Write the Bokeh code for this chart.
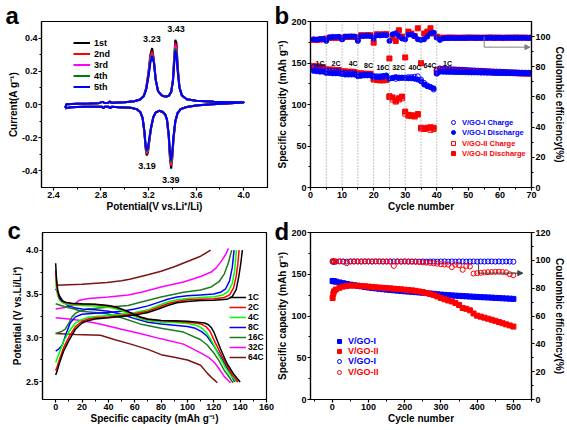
from bokeh.plotting import figure
from bokeh.layouts import column, row
from bokeh.models import (Range1d, LinearAxis, Legend, LegendItem, Span, Title,
                          Arrow, NormalHead, FixedTicker, PrintfTickFormatter)
from bokeh.embed import file_html
from bokeh.resources import INLINE
from bokeh.core.properties import value

FONT = "Liberation Sans"

# ---------------- (a) cyclic voltammetry ----------------
cv_cycles = ["1st", "2nd", "3rd", "4th", "5th"]
cv_E_anodic = [2.50, 2.51, 2.60, 2.70, 2.78, 2.815, 2.825, 2.835, 2.86, 2.875, 2.885, 2.90,
               3.00, 3.08, 3.13, 3.16, 3.18, 3.20, 3.215, 3.23, 3.245, 3.26, 3.28, 3.31,
               3.33, 3.35, 3.37, 3.39, 3.405, 3.415, 3.425, 3.435, 3.445, 3.46, 3.48, 3.52,
               3.60, 3.75, 3.90, 4.00]
cv_I_an_1st = [-0.020, 0.002, 0.004, 0.006, 0.008, 0.016, 0.010, 0.009, 0.010, 0.018, 0.011, 0.010,
               0.014, 0.020, 0.030, 0.052, 0.100, 0.200, 0.300, 0.340, 0.270, 0.150, 0.080, 0.055,
               0.050, 0.048, 0.052, 0.075, 0.150, 0.280, 0.390, 0.370, 0.230, 0.105, 0.055, 0.032,
               0.022, 0.016, 0.014, 0.013]
cv_I_an_2nd = [-0.020, 0.002, 0.004, 0.006, 0.008, 0.016, 0.010, 0.009, 0.010, 0.018, 0.011, 0.010,
               0.014, 0.020, 0.030, 0.051, 0.095, 0.190, 0.285, 0.320, 0.262, 0.150, 0.080, 0.055,
               0.050, 0.048, 0.052, 0.075, 0.145, 0.265, 0.370, 0.350, 0.220, 0.103, 0.055, 0.032,
               0.022, 0.016, 0.014, 0.013]
cv_I_an_3rd = [-0.020, 0.002, 0.004, 0.006, 0.008, 0.016, 0.010, 0.009, 0.010, 0.018, 0.011, 0.010,
               0.014, 0.020, 0.030, 0.051, 0.093, 0.182, 0.272, 0.308, 0.258, 0.150, 0.080, 0.055,
               0.050, 0.048, 0.052, 0.075, 0.143, 0.255, 0.355, 0.330, 0.212, 0.102, 0.055, 0.032,
               0.022, 0.016, 0.014, 0.013]
cv_I_an_4th = [-0.020, 0.002, 0.004, 0.006, 0.008, 0.016, 0.010, 0.009, 0.010, 0.018, 0.011, 0.010,
               0.014, 0.020, 0.030, 0.050, 0.091, 0.176, 0.262, 0.299, 0.254, 0.150, 0.080, 0.055,
               0.050, 0.048, 0.052, 0.075, 0.141, 0.248, 0.340, 0.315, 0.206, 0.101, 0.055, 0.032,
               0.022, 0.016, 0.014, 0.013]
cv_I_an_5th = [-0.020, 0.002, 0.004, 0.006, 0.008, 0.016, 0.010, 0.009, 0.010, 0.018, 0.011, 0.010,
               0.014, 0.020, 0.030, 0.050, 0.090, 0.170, 0.250, 0.290, 0.250, 0.150, 0.080, 0.055,
               0.050, 0.048, 0.052, 0.075, 0.140, 0.240, 0.325, 0.300, 0.200, 0.100, 0.055, 0.032,
               0.022, 0.016, 0.014, 0.013]
cv_E_cathodic = [4.00, 3.85, 3.70, 3.60, 3.52, 3.47, 3.445, 3.425, 3.41, 3.40, 3.39, 3.38, 3.37,
                 3.355, 3.34, 3.32, 3.29, 3.26, 3.24, 3.22, 3.205, 3.195, 3.185, 3.175, 3.165,
                 3.15, 3.13, 3.10, 3.05, 2.95, 2.89, 2.875, 2.865, 2.85, 2.83, 2.82, 2.81, 2.75,
                 2.65, 2.55, 2.50]
cv_I_ca_1st = [0.012, 0.006, 0.000, -0.006, -0.015, -0.028, -0.050, -0.105, -0.210, -0.320, -0.386,
               -0.330, -0.200, -0.095, -0.060, -0.045, -0.038, -0.048, -0.078, -0.150, -0.230, -0.290,
               -0.307, -0.265, -0.170, -0.082, -0.045, -0.028, -0.020, -0.016, -0.014, -0.022, -0.014,
               -0.013, -0.014, -0.024, -0.014, -0.013, -0.014, -0.016, -0.022]
cv_I_ca_2nd = [0.012, 0.006, 0.000, -0.006, -0.015, -0.028, -0.050, -0.103, -0.205, -0.310, -0.370,
               -0.315, -0.195, -0.093, -0.060, -0.045, -0.038, -0.048, -0.077, -0.147, -0.225, -0.282,
               -0.297, -0.257, -0.167, -0.081, -0.045, -0.028, -0.020, -0.016, -0.014, -0.022, -0.014,
               -0.013, -0.014, -0.024, -0.014, -0.013, -0.014, -0.016, -0.022]
cv_I_ca_3rd = [0.012, 0.006, 0.000, -0.006, -0.015, -0.028, -0.050, -0.102, -0.200, -0.300, -0.360,
               -0.305, -0.190, -0.092, -0.060, -0.045, -0.038, -0.048, -0.076, -0.144, -0.220, -0.275,
               -0.290, -0.250, -0.164, -0.081, -0.045, -0.028, -0.020, -0.016, -0.014, -0.022, -0.014,
               -0.013, -0.014, -0.024, -0.014, -0.013, -0.014, -0.016, -0.022]
cv_I_ca_4th = [0.012, 0.006, 0.000, -0.006, -0.015, -0.028, -0.050, -0.101, -0.195, -0.290, -0.350,
               -0.298, -0.185, -0.091, -0.060, -0.045, -0.038, -0.048, -0.075, -0.142, -0.215, -0.268,
               -0.285, -0.245, -0.162, -0.080, -0.045, -0.028, -0.020, -0.016, -0.014, -0.022, -0.014,
               -0.013, -0.014, -0.024, -0.014, -0.013, -0.014, -0.016, -0.022]
cv_I_ca_5th = [0.012, 0.006, 0.000, -0.006, -0.015, -0.028, -0.050, -0.100, -0.190, -0.280, -0.337,
               -0.290, -0.180, -0.090, -0.060, -0.045, -0.038, -0.048, -0.075, -0.140, -0.210, -0.260,
               -0.277, -0.240, -0.160, -0.080, -0.045, -0.028, -0.020, -0.016, -0.014, -0.022, -0.014,
               -0.013, -0.014, -0.024, -0.014, -0.013, -0.014, -0.016, -0.022]
peak_ox_E = [3.228, 3.43]
peak_ox_I = [0.34, 0.40]
peak_ox_txt = ["3.23", "3.43"]
peak_red_E = [3.186, 3.387]
peak_red_I = [-0.307, -0.386]
peak_red_txt = ["3.19", "3.39"]
a_xticks = [2.4, 2.8, 3.2, 3.6, 4.0]
a_xminor = [2.6, 3.0, 3.4, 3.8]
a_yticks = [-0.4, -0.2, 0.0, 0.2, 0.4]
a_yminor = [-0.3, -0.1, 0.1, 0.3]

# ---------------- (b) rate capability ----------------
cycles_b = list(range(1, 71))
b_I_charge = [145.5, 145.0, 144.5, 144.5,
              141.0, 141.0, 140.5, 140.5, 140.0,
              138.5, 138.0, 138.0, 138.0, 137.5,
              135.5, 135.5, 136.0, 136.0, 136.0,
              134.5, 134.0, 134.0, 134.5, 135.0,
              131.5, 132.0, 131.0, 131.5, 132.5,
              132.5, 133.0, 133.0, 133.5, 134.0,
              130.0, 126.0, 123.0, 121.0, 118.0,
              141.0,
              143.5, 143.2, 143.0, 142.8, 142.5, 142.3, 142.1, 141.9, 141.7, 141.5,
              141.3, 141.1, 140.9, 140.7, 140.5, 140.3, 140.1, 139.9, 139.7, 139.6,
              139.4, 139.2, 139.1, 138.9, 138.8, 138.6, 138.5, 138.4, 138.2, 138.1]
b_I_discharge = [140.5, 140.0, 139.5, 139.5,
                 138.0, 138.0, 137.5, 137.5, 137.5,
                 136.5, 136.0, 136.0, 136.0, 136.0,
                 134.0, 134.5, 135.0, 135.0, 135.0,
                 133.0, 133.0, 133.0, 133.5, 134.5,
                 131.0, 132.0, 133.0, 132.5, 132.0,
                 132.0, 131.5, 131.5, 131.0, 130.0,
                 128.0, 124.0, 122.0, 121.0, 119.5,
                 137.0,
                 139.5, 139.4, 139.3, 139.2, 139.1, 139.0, 139.0, 138.9, 138.8, 138.7,
                 138.6, 138.6, 138.5, 138.4, 138.3, 138.2, 138.2, 138.1, 138.0, 137.9,
                 137.9, 137.8, 137.7, 137.7, 137.6, 137.5, 137.5, 137.4, 137.3, 137.3]
b_II_charge = [146.5, 146.0, 145.5, 145.0,
               142.5, 142.0, 142.0, 141.5, 141.5,
               140.0, 140.0, 139.5, 139.5, 139.0,
               137.5, 137.5, 137.0, 137.0, 137.0,
               131.0, 130.0, 129.5, 129.5, 130.0,
               109.0, 106.0, 103.5, 106.0, 107.5,
               89.0, 86.5, 86.0, 85.5, 88.5,
               71.0, 70.5, 71.5, 69.5, 70.5,
               141.5,
               142.5, 142.3, 142.0, 141.8, 141.6, 141.4, 141.1, 140.9, 140.7, 140.5,
               140.3, 140.1, 139.9, 139.7, 139.6, 139.4, 139.2, 139.1, 138.9, 138.8,
               138.6, 138.5, 138.3, 138.2, 138.1, 137.9, 137.8, 137.7, 137.6, 137.5]
b_II_discharge = [145.0, 144.5, 144.0, 143.5,
                  141.5, 141.5, 141.0, 141.0, 140.5,
                  139.5, 139.0, 139.0, 139.0, 138.5,
                  137.0, 137.0, 137.0, 136.5, 136.5,
                  130.0, 129.5, 129.0, 129.0, 129.5,
                  110.0, 108.5, 104.5, 107.5, 109.5,
                  91.5, 87.5, 87.0, 86.5, 88.0,
                  72.0, 70.5, 72.0, 72.5, 72.0,
                  138.5,
                  142.0, 141.8, 141.6, 141.3, 141.1, 140.9, 140.7, 140.5, 140.3, 140.1,
                  139.9, 139.7, 139.5, 139.4, 139.2, 139.0, 138.9, 138.7, 138.6, 138.4,
                  138.3, 138.1, 138.0, 137.9, 137.8, 137.6, 137.5, 137.4, 137.3, 137.2]
b_I_eff = [98.2, 98.0, 98.4, 98.5,
           97.1, 99.6, 99.8, 99.8, 99.9,
           98.2, 100.0, 100.0, 100.1, 100.0,
           97.1, 100.4, 100.4, 100.5, 100.3,
           98.7, 100.9, 100.8, 101.0, 100.9,
           97.1, 101.5, 102.2, 100.4, 98.7,
           98.2, 101.3, 101.3, 100.4, 98.2,
           97.8, 98.2, 100.0, 102.2, 102.6,
           99.3,
           97.8, 98.8, 99.0, 99.0, 99.1, 99.0, 99.1, 99.1, 99.0, 99.1,
           99.2, 99.1, 99.1, 99.2, 99.1, 99.2, 99.2, 99.1, 99.2, 99.2,
           99.1, 99.2, 99.2, 99.2, 99.1, 99.2, 99.2, 99.2, 99.1, 99.2]
b_II_eff = [97.8, 97.8, 98.0, 98.2,
            98.7, 99.1, 99.2, 99.2, 99.3,
            98.7, 99.8, 99.8, 99.9, 99.8,
            98.7, 100.9, 100.8, 101.0, 100.9,
            96.0, 101.5, 101.4, 101.5, 101.6,
            85.5, 99.3, 97.1, 104.2, 100.0,
            86.2, 103.3, 102.0, 100.4, 105.5,
            82.4, 102.0, 103.3, 105.5, 102.0,
            100.0,
            99.3, 99.2, 99.3, 99.4, 99.3, 99.3, 99.2, 99.3, 99.3, 99.4,
            99.3, 99.3, 99.3, 99.2, 99.3, 99.3, 99.4, 99.3, 99.3, 99.3,
            99.2, 99.3, 99.3, 99.3, 99.4, 99.3, 99.3, 99.3, 99.2, 99.3]
rate_bounds = [5, 10, 15, 20, 25, 30, 35, 40]
rate_names = ["1C", "2C", "4C", "8C", "16C", "32C", "40C", "64C", "1C"]
rate_label_cycle = [3, 8.1, 13.5, 18.4, 22.9, 27.9, 33.1, 37.8, 43.4]
rate_label_cap = [150, 149, 149, 147, 145, 145, 145, 147, 150]
b_arrow_x = [55, 55, 68]
b_arrow_y = [100, 93, 93]
b_arrow_tip = 69.5
b_xticks = [0, 10, 20, 30, 40, 50, 60, 70]
b_xminor = [5, 15, 25, 35, 45, 55, 65]
b_yticks = [0, 50, 100, 150, 200]
b_yminor = [25, 75, 125, 175]
b_effticks = [0, 20, 40, 60, 80, 100]
b_effminor = [10, 30, 50, 70, 90]

# ---------------- (c) charge/discharge profiles ----------------
c_rates = ["1C", "2C", "4C", "8C", "16C", "32C", "64C"]
c_ch_cap_1C = [0, 1, 3, 6, 10, 15, 20, 25, 30, 40, 50, 60, 70, 78, 85, 92, 100, 110, 120, 130, 134, 137, 139, 140.5, 141.7]
c_ch_V_1C = [2.58, 2.62, 2.72, 2.85, 2.97, 3.10, 3.17, 3.20, 3.215, 3.23, 3.245, 3.26, 3.29, 3.33, 3.37, 3.40, 3.415, 3.425, 3.43, 3.44, 3.47, 3.55, 3.70, 3.85, 4.00]
c_dis_cap_1C = [0, 0.5, 1.5, 3, 5, 8, 12, 20, 30, 40, 45, 50, 55, 60, 65, 70, 80, 90, 100, 108, 113, 116, 118, 120, 125, 130, 135, 140]
c_dis_V_1C = [3.85, 3.70, 3.55, 3.46, 3.42, 3.405, 3.395, 3.39, 3.385, 3.37, 3.355, 3.33, 3.30, 3.265, 3.235, 3.215, 3.20, 3.195, 3.19, 3.18, 3.17, 3.15, 3.12, 3.07, 2.88, 2.71, 2.59, 2.50]
c_ch_cap_2C = [0, 1, 3, 6, 10, 15, 20, 25, 30, 40, 50, 60, 70, 78, 85, 92, 100, 110, 120, 128, 132, 135, 137, 138.3, 139.2]
c_ch_V_2C = [2.63, 2.67, 2.76, 2.89, 3.01, 3.13, 3.19, 3.215, 3.23, 3.24, 3.255, 3.275, 3.305, 3.35, 3.39, 3.415, 3.435, 3.44, 3.445, 3.46, 3.49, 3.57, 3.70, 3.85, 4.00]
c_dis_cap_2C = [0, 0.5, 1.5, 3, 5, 8, 12, 20, 30, 40, 45, 50, 55, 60, 65, 70, 80, 90, 100, 106, 111, 114, 117, 121, 126, 131, 134, 138.4]
c_dis_V_2C = [3.77, 3.65, 3.52, 3.45, 3.415, 3.40, 3.39, 3.385, 3.38, 3.365, 3.35, 3.325, 3.295, 3.26, 3.23, 3.21, 3.195, 3.19, 3.18, 3.17, 3.155, 3.13, 3.08, 2.95, 2.80, 2.66, 2.58, 2.50]
c_ch_cap_4C = [0, 1, 3, 6, 10, 15, 20, 25, 30, 40, 50, 60, 70, 78, 85, 92, 100, 110, 120, 127, 131, 134, 135.7, 136.5, 137.2]
c_ch_V_4C = [2.72, 2.76, 2.84, 2.96, 3.07, 3.17, 3.21, 3.235, 3.245, 3.255, 3.27, 3.29, 3.32, 3.37, 3.41, 3.435, 3.45, 3.46, 3.47, 3.49, 3.53, 3.62, 3.75, 3.88, 4.00]
c_dis_cap_4C = [0, 0.5, 1.5, 3, 5, 8, 12, 20, 30, 40, 45, 50, 55, 60, 65, 70, 80, 90, 100, 105, 109, 112, 115, 119, 124, 129, 133, 137.4]
c_dis_V_4C = [3.68, 3.58, 3.48, 3.43, 3.40, 3.385, 3.375, 3.37, 3.365, 3.35, 3.335, 3.31, 3.28, 3.245, 3.215, 3.195, 3.18, 3.175, 3.165, 3.15, 3.13, 3.10, 3.05, 2.95, 2.80, 2.66, 2.57, 2.50]
c_ch_cap_8C = [0, 2, 5, 8, 11, 15, 20, 30, 40, 50, 60, 70, 78, 85, 92, 100, 110, 120, 125, 129, 132, 134, 135.4]
c_ch_V_8C = [2.85, 2.87, 2.92, 3.05, 3.17, 3.24, 3.27, 3.28, 3.29, 3.305, 3.33, 3.365, 3.405, 3.44, 3.465, 3.48, 3.49, 3.50, 3.52, 3.56, 3.65, 3.80, 4.00]
c_dis_cap_8C = [0, 2, 5, 9, 14, 20, 30, 40, 50, 60, 70, 80, 90, 100, 106, 111, 115, 120, 125, 130, 135.9]
c_dis_V_8C = [3.56, 3.50, 3.43, 3.37, 3.345, 3.33, 3.32, 3.305, 3.27, 3.22, 3.18, 3.16, 3.145, 3.13, 3.11, 3.07, 3.02, 2.91, 2.79, 2.66, 2.50]
c_ch_cap_16C = [0, 4, 7.3, 10, 12.4, 15, 18.7, 25, 39, 55, 65, 80, 97, 110, 118, 124, 128, 131, 133.6]
c_ch_V_16C = [3.05, 3.07, 3.10, 3.17, 3.24, 3.28, 3.31, 3.33, 3.35, 3.37, 3.41, 3.465, 3.52, 3.545, 3.58, 3.64, 3.73, 3.85, 4.00]
c_dis_cap_16C = [0, 4, 8.6, 14, 19, 30, 39, 50, 64, 80, 97, 110, 115, 120, 124, 128, 131, 134.6]
c_dis_V_16C = [3.39, 3.37, 3.35, 3.33, 3.305, 3.29, 3.275, 3.23, 3.16, 3.11, 3.067, 2.98, 2.92, 2.83, 2.74, 2.63, 2.57, 2.49]
c_ch_cap_32C = [0, 8, 14, 18, 25, 40, 55, 65, 80, 97, 110, 118, 122, 126, 129, 131.1]
c_ch_V_32C = [3.33, 3.35, 3.38, 3.43, 3.45, 3.465, 3.49, 3.52, 3.58, 3.636, 3.70, 3.75, 3.80, 3.88, 3.95, 4.02]
c_dis_cap_32C = [0, 10, 19, 30, 39, 50, 64, 80, 97, 110, 116, 120, 124, 128, 132.8]
c_dis_V_32C = [3.23, 3.215, 3.20, 3.17, 3.14, 3.10, 3.05, 2.99, 2.93, 2.83, 2.78, 2.73, 2.65, 2.56, 2.49]
c_ch_cap_64C = [0, 20, 39, 50, 57, 70, 80, 90, 100, 110, 117.6]
c_ch_V_64C = [3.60, 3.61, 3.63, 3.65, 3.67, 3.72, 3.76, 3.81, 3.87, 3.93, 4.00]
c_dis_cap_64C = [0, 15, 34, 45, 57, 70, 80, 90, 100, 110, 115, 119, 122.7]
c_dis_V_64C = [3.05, 3.04, 3.03, 2.98, 2.93, 2.87, 2.81, 2.78, 2.75, 2.69, 2.60, 2.54, 2.49]
c_xticks = [0, 20, 40, 60, 80, 100, 120, 140, 160]
c_xminor = [10, 30, 50, 70, 90, 110, 130, 150]
c_yticks = [2.5, 3.0, 3.5, 4.0]
c_yminor = [2.75, 3.25, 3.75]

# ---------------- (d) long cycling ----------------
cycles_d = [1, 3, 5, 10, 20, 30, 40, 50, 60, 70, 80, 90, 100, 110, 120, 130, 140, 150, 160, 170,
            180, 190, 200, 210, 220, 230, 240, 250, 260, 270, 280, 290, 300, 310, 320, 330, 340,
            350, 360, 370, 380, 390, 400, 410, 420, 430, 440, 450, 460, 470, 480, 490, 500]
d_I_cap = [142.0, 141.8, 141.6, 141.1, 140.2, 139.3, 138.4, 137.6, 136.9, 136.2, 135.5, 134.8, 134.1,
           133.6, 133.1, 132.6, 132.1, 131.6, 131.2, 130.8, 130.4, 130.0, 129.6, 129.3, 128.9, 128.6,
           128.2, 127.9, 127.4, 127.0, 126.5, 126.0, 125.6, 125.3, 125.0, 124.7, 124.4, 124.1, 123.8,
           123.6, 123.3, 123.1, 122.8, 122.6, 122.4, 122.2, 122.0, 121.7, 121.5, 121.2, 121.0, 120.8,
           120.5]
d_II_cap = [121.5, 126.5, 129.5, 131.8, 133.8, 135.2, 136.0, 136.4, 136.4, 136.2, 135.9, 135.6, 135.2,
            134.8, 134.4, 134.0, 133.7, 133.4, 133.1, 132.7, 132.3, 131.9, 131.5, 131.1, 130.7, 130.1,
            129.4, 128.6, 127.6, 126.4, 125.0, 123.4, 121.6, 120.0, 118.6, 117.4, 115.6, 113.2, 109.6,
            108.6, 106.8, 103.0, 100.4, 99.2, 98.0, 96.8, 95.5, 94.2, 92.8, 91.4, 90.0, 88.7, 87.3]
d_I_eff = [99.0, 99.1, 99.0, 99.1, 99.2, 99.1, 99.1, 99.2, 99.1, 99.2, 99.1, 99.2, 99.2, 99.1, 99.2,
           99.2, 99.1, 99.2, 99.1, 99.2, 99.2, 99.1, 99.2, 99.1, 99.2, 99.2, 99.1, 99.2, 99.1, 99.2,
           99.2, 99.1, 99.2, 99.2, 99.1, 99.2, 99.1, 99.2, 99.2, 99.1, 99.2, 99.2, 99.1, 99.2, 99.1,
           99.2, 99.2, 99.1, 99.2, 99.1, 99.2, 99.1, 99.0]
d_II_eff = [99.5, 99.3, 99.2, 99.2, 99.3, 99.2, 97.9, 99.2, 99.3, 99.2, 99.2, 99.3, 99.2, 99.2, 99.3,
            99.2, 99.2, 99.1, 99.2, 96.0, 99.2, 99.1, 99.2, 99.1, 99.0, 98.9, 98.8, 98.5, 98.3, 98.1,
            97.9, 97.6, 97.2, 97.0, 96.9, 95.1, 96.9, 96.5, 93.2, 96.0, 95.6, 90.5, 90.8, 91.0, 91.3,
            91.5, 91.6, 91.7, 91.8, 91.6, 91.4, 90.0, 89.3]
d_arrow_x = [404, 404, 522]
d_arrow_y = [99.0, 90.8, 90.8]
d_arrow_tip = 526
d_xticks = [0, 100, 200, 300, 400, 500]
d_xminor = [-50, 50, 150, 250, 350, 450, 550]
d_yticks = [0, 50, 100, 150, 200]
d_yminor = [25, 75, 125, 175]
d_effticks = [0, 20, 40, 60, 80, 100, 120]
d_effminor = [10, 30, 50, 70, 90, 110]


# ---------------- helpers ----------------
def base_fig(width, height, xr, yr, left, right, top, bottom):
    p = figure(width=width, height=height, x_range=xr, y_range=yr,
               output_backend="svg", toolbar_location=None,
               min_border_left=left, min_border_right=right,
               min_border_top=top, min_border_bottom=bottom)
    p.xgrid.visible = False
    p.ygrid.visible = False
    p.outline_line_color = "black"
    p.outline_line_width = 1.2
    p.outline_line_alpha = 1.0
    p.background_fill_color = "white"
    p.border_fill_color = "white"
    return p


def style_axis(ax, ticks, minor, label, fmt=None):
    ax.ticker = FixedTicker(ticks=ticks, minor_ticks=minor)
    if fmt:
        ax.formatter = PrintfTickFormatter(format=fmt)
    ax.axis_label = label
    ax.axis_line_color = "black"
    ax.axis_line_width = 1.2
    ax.major_tick_line_color = "black"
    ax.major_tick_line_width = 1.2
    ax.minor_tick_line_color = "black"
    ax.major_tick_in = 0
    ax.major_tick_out = 3
    ax.minor_tick_in = 0
    ax.minor_tick_out = 2
    ax.major_label_text_font = FONT
    ax.major_label_text_font_size = "9px"
    ax.major_label_text_font_style = "bold"
    ax.major_label_text_color = "black"
    ax.major_label_standoff = 1
    ax.axis_label_text_font = FONT
    ax.axis_label_text_font_size = "10px"
    ax.axis_label_text_font_style = "bold"
    ax.axis_label_text_color = "black"
    ax.axis_label_standoff = 0


def make_legend(items, loc, color="black", gw=16, rh=10, size="8px", standoff=4):
    return Legend(items=items, location=loc, orientation="vertical",
                  label_text_font=FONT, label_text_font_size=size,
                  label_text_font_style="bold", label_text_color=color,
                  glyph_width=gw, glyph_height=rh, label_height=rh,
                  label_standoff=standoff, spacing=0, padding=0, margin=0,
                  border_line_color=None, background_fill_alpha=0)


def panel_letter(p, txt, offset, standoff):
    # negative standoff keeps the letter inside the existing top margin
    t = Title(text=txt, align="left", vertical_align="top", offset=offset,
              text_font=FONT, text_font_size="24px", text_font_style="bold",
              text_color="black")
    try:
        t.standoff = standoff
    except Exception:
        t.standoff = 0
    p.title = t


# ---------------- panel a ----------------
pa = base_fig(274, 215, Range1d(2.3, 4.2), Range1d(-0.5, 0.5), 41, 7, 21, 28)
style_axis(pa.xaxis[0], a_xticks, a_xminor, "Potential(V vs.Li\u207a/Li)", "%.1f")
style_axis(pa.yaxis[0], a_yticks, a_yminor, "Current(A g\u207b\u00b9)", "%.1f")
cv_colors = ["black", "red", "magenta", "#008000", "blue"]
cv_an = [cv_I_an_1st, cv_I_an_2nd, cv_I_an_3rd, cv_I_an_4th, cv_I_an_5th]
cv_ca = [cv_I_ca_1st, cv_I_ca_2nd, cv_I_ca_3rd, cv_I_ca_4th, cv_I_ca_5th]
a_items = []
for name, ian, ica, col in zip(cv_cycles, cv_an, cv_ca, cv_colors):
    r = pa.line(cv_E_anodic + cv_E_cathodic, ian + ica, line_color=col, line_width=2)
    a_items.append(LegendItem(label=name, renderers=[r]))
pa.add_layout(make_legend(a_items, (32, 95), gw=17, rh=11, size="9px", standoff=4))
pa.text(x=peak_ox_E, y=peak_ox_I, text=peak_ox_txt, y_offset=-9,
        text_font=value(FONT), text_font_size=value("9px"), text_font_style="bold",
        text_align="center", text_baseline="middle", text_color="black")
pa.text(x=peak_red_E, y=peak_red_I, text=peak_red_txt, y_offset=11,
        text_font=value(FONT), text_font_size=value("9px"), text_font_style="bold",
        text_align="center", text_baseline="middle", text_color="black")
panel_letter(pa, "a", -36, -18)

# ---------------- panel b ----------------
pb = base_fig(293, 215, Range1d(0, 70), Range1d(0, 200), 36, 33, 21, 28)
pb.extra_y_ranges = {"eff": Range1d(0, 110)}
pb.add_layout(LinearAxis(y_range_name="eff"), "right")
style_axis(pb.xaxis[0], b_xticks, b_xminor, "Cycle number")
style_axis(pb.yaxis[0], b_yticks, b_yminor, "Specific capacity (mAh g\u207b\u00b9)")
style_axis(pb.yaxis[1], b_effticks, b_effminor, "Coulombic efficiency(%)")
for xb in rate_bounds:
    pb.add_layout(Span(location=xb, dimension="height", line_color="#8c8c8c",
                       line_dash="1 2", line_width=1))
rIIc = pb.scatter(cycles_b, b_II_charge, marker="square", size=5, fill_color=None,
                  line_color="red", line_width=1)
rIId = pb.scatter(cycles_b, b_II_discharge, marker="square", size=5, fill_color="red",
                  line_color="red")
pb.scatter(cycles_b, b_II_eff, marker="square", size=5, fill_color="red", line_color="red",
           y_range_name="eff")
rIc = pb.scatter(cycles_b, b_I_charge, marker="circle", size=5, fill_color=None,
                 line_color="blue", line_width=1)
rId = pb.scatter(cycles_b, b_I_discharge, marker="circle", size=5, fill_color="blue",
                 line_color="blue")
pb.scatter(cycles_b, b_I_eff, marker="circle", size=5, fill_color="blue", line_color="blue",
           y_range_name="eff")
pb.text(x=rate_label_cycle, y=rate_label_cap, text=rate_names,
        text_font=value(FONT), text_font_size=value("7px"), text_font_style="bold",
        text_align="center", text_baseline="middle", text_color="black")
pb.line(b_arrow_x, b_arrow_y, line_color="#808080", line_width=1, y_range_name="eff")
pb.add_layout(Arrow(end=NormalHead(size=5, fill_color="#808080", line_color="#808080"),
                    x_start=b_arrow_x[-1], y_start=b_arrow_y[-1], x_end=b_arrow_tip,
                    y_end=b_arrow_y[-1], y_range_name="eff", line_color="#808080",
                    line_width=1))
pb.add_layout(make_legend([LegendItem(label="V/GO-I Charge", renderers=[rIc]),
                           LegendItem(label="V/GO-I Discharge", renderers=[rId])],
                          (138, 50), color="blue", gw=10, size="7.5px"))
pb.add_layout(make_legend([LegendItem(label="V/GO-II Charge", renderers=[rIIc]),
                           LegendItem(label="V/GO-II Discharge", renderers=[rIId])],
                          (138, 29), color="red", gw=10, size="7.5px"))
panel_letter(pb, "b", -36, -18)

# ---------------- panel c ----------------
pc = base_fig(274, 215, Range1d(-10, 160), Range1d(2.3, 4.2), 42, 8, 17, 31)
style_axis(pc.xaxis[0], c_xticks, c_xminor, "Specific capacity (mAh g\u207b\u00b9)")
style_axis(pc.yaxis[0], c_yticks, c_yminor, "Potential (V vs.Li/Li\u207a)", "%.1f")
c_colors = ["black", "red", "#00ff00", "blue", "#1e7b1e", "#ff00ff", "#7b1414"]
c_ch_cap = [c_ch_cap_1C, c_ch_cap_2C, c_ch_cap_4C, c_ch_cap_8C, c_ch_cap_16C, c_ch_cap_32C, c_ch_cap_64C]
c_ch_V = [c_ch_V_1C, c_ch_V_2C, c_ch_V_4C, c_ch_V_8C, c_ch_V_16C, c_ch_V_32C, c_ch_V_64C]
c_dis_cap = [c_dis_cap_1C, c_dis_cap_2C, c_dis_cap_4C, c_dis_cap_8C, c_dis_cap_16C, c_dis_cap_32C, c_dis_cap_64C]
c_dis_V = [c_dis_V_1C, c_dis_V_2C, c_dis_V_4C, c_dis_V_8C, c_dis_V_16C, c_dis_V_32C, c_dis_V_64C]
c_items = []
for i in range(len(c_rates) - 1, -1, -1):
    r1 = pc.line(c_ch_cap[i], c_ch_V[i], line_color=c_colors[i], line_width=1.5)
    pc.line(c_dis_cap[i], c_dis_V[i], line_color=c_colors[i], line_width=1.5)
    c_items.insert(0, LegendItem(label=c_rates[i], renderers=[r1]))
pc.add_layout(make_legend(c_items, (187, 37), gw=17, rh=10, size="8.5px", standoff=2))
panel_letter(pc, "c", -35, -26)

# ---------------- panel d ----------------
pd_ = base_fig(293, 215, Range1d(-60, 550), Range1d(0, 200), 36, 33, 16, 31)
pd_.extra_y_ranges = {"eff": Range1d(0, 120)}
pd_.add_layout(LinearAxis(y_range_name="eff"), "right")
style_axis(pd_.xaxis[0], d_xticks, d_xminor, "Cycle number")
style_axis(pd_.yaxis[0], d_yticks, d_yminor, "Specific capacity (mAh g\u207b\u00b9)")
style_axis(pd_.yaxis[1], d_effticks, d_effminor, "Coulombic efficiency(%)")
rd1 = pd_.scatter(cycles_d, d_I_cap, marker="square", size=5, fill_color="blue", line_color="blue")
rd2 = pd_.scatter(cycles_d, d_II_cap, marker="square", size=5, fill_color="red", line_color="red")
rd3 = pd_.scatter(cycles_d, d_I_eff, marker="circle", size=5, fill_color=None, line_color="blue",
                  line_width=1, y_range_name="eff")
rd4 = pd_.scatter(cycles_d, d_II_eff, marker="circle", size=5, fill_color=None, line_color="red",
                  line_width=1, y_range_name="eff")
pd_.line(d_arrow_x, d_arrow_y, line_color="#404040", line_width=1, y_range_name="eff")
pd_.add_layout(Arrow(end=NormalHead(size=5, fill_color="#404040", line_color="#404040"),
                     x_start=d_arrow_x[-1], y_start=d_arrow_y[-1], x_end=d_arrow_tip,
                     y_end=d_arrow_y[-1], y_range_name="eff", line_color="#404040",
                     line_width=1))
for rr, lab, col, yy in [(rd1, "V/GO-I", "blue", 53), (rd2, "V/GO-II", "red", 43),
                         (rd3, "V/GO-I", "blue", 33), (rd4, "V/GO-II", "red", 22)]:
    pd_.add_layout(make_legend([LegendItem(label=lab, renderers=[rr])], (24, yy),
                               color=col, gw=10, size="9px"))
panel_letter(pd_, "d", -36, -28)

layout = column(row(pa, pb), row(pc, pd_))
open("out.html", "w").write(file_html(layout, INLINE))
